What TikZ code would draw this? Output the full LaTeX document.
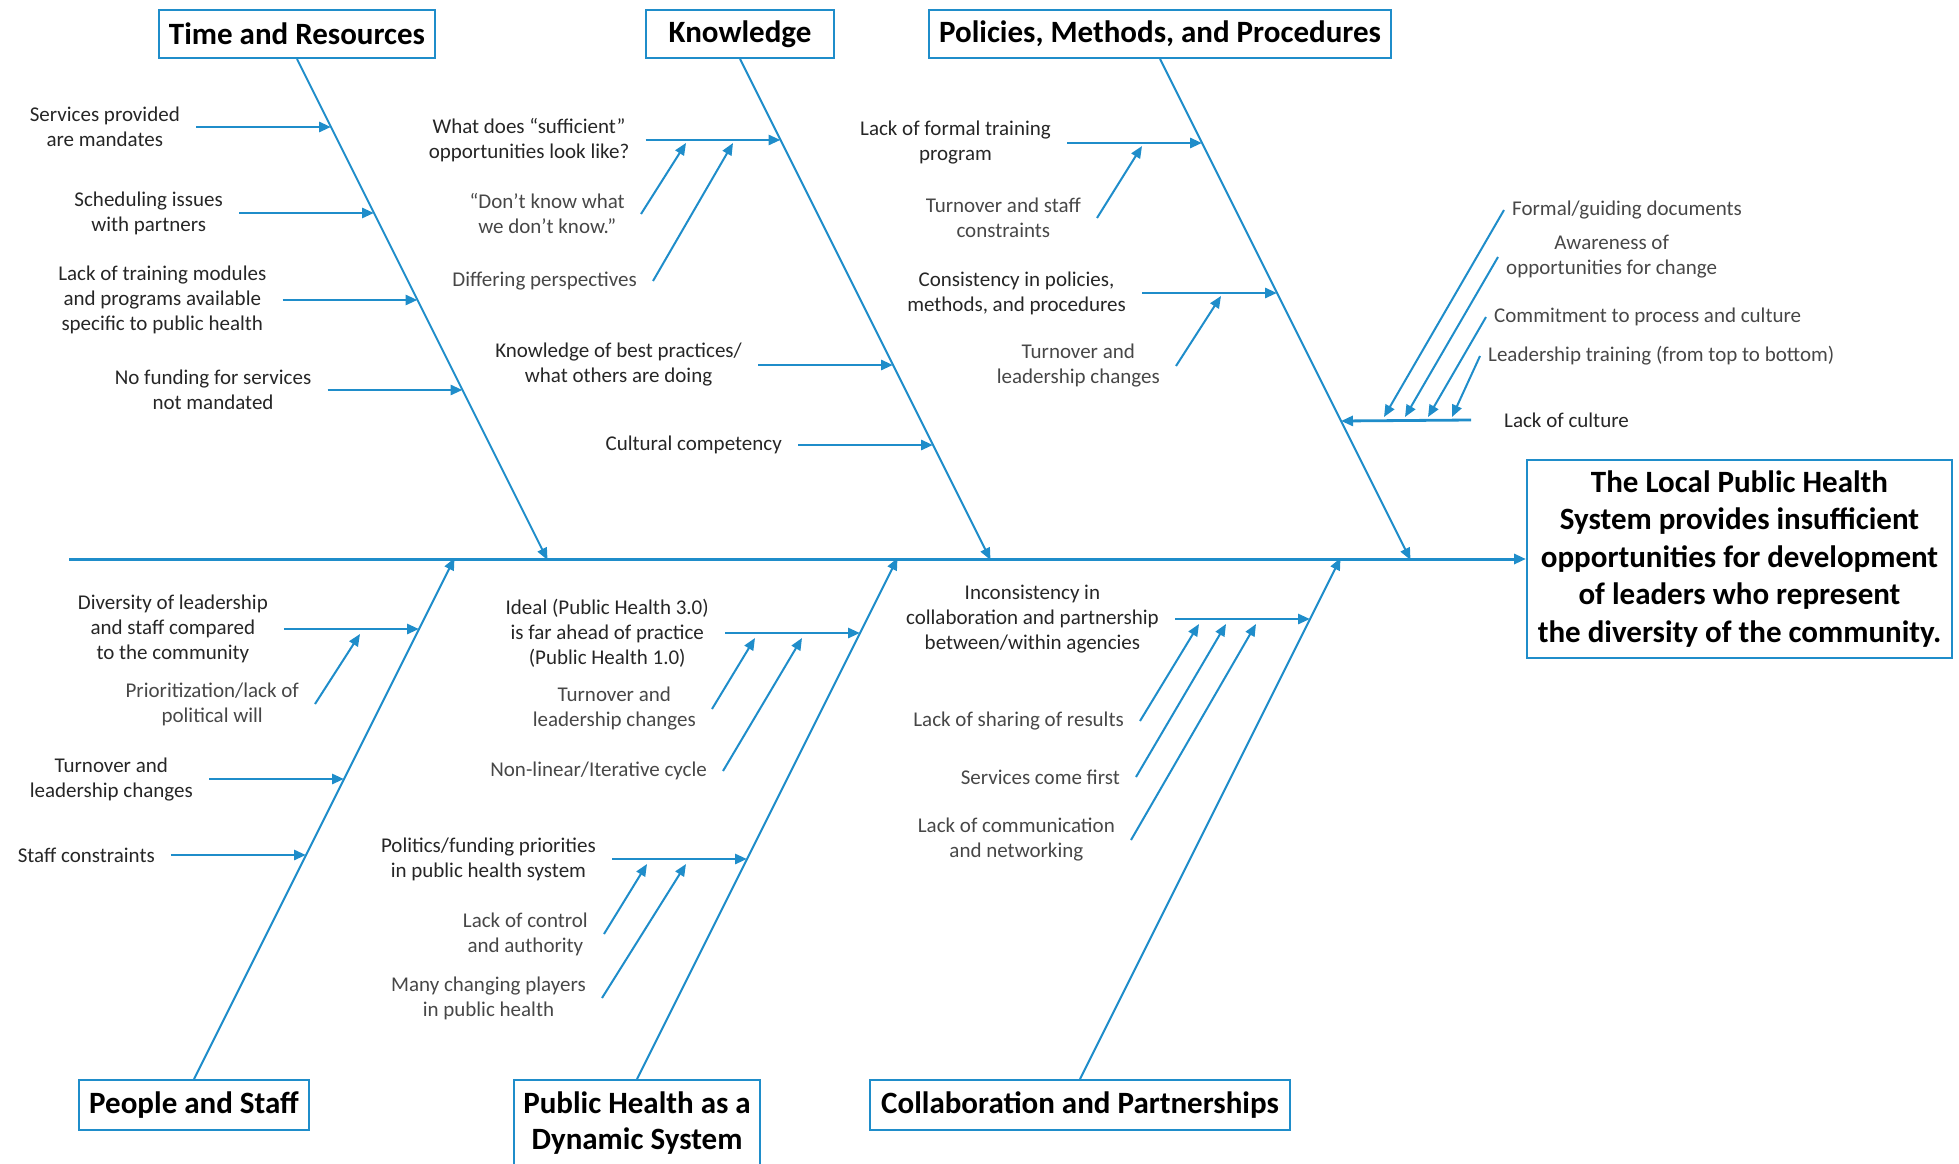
\documentclass[tikz,border=0pt]{standalone}
\usepackage{fontspec}
\setmainfont{Carlito}
\usetikzlibrary{arrows.meta,positioning,calc}
\definecolor{paper}{HTML}{FFFFFF}
\definecolor{ink}{HTML}{000000}
\definecolor{causeink}{HTML}{262626}
\definecolor{subink}{HTML}{474747}
\definecolor{fishblue}{HTML}{1F8DCA}
\newcommand{\SpineY}{559}
\newcommand{\TopY}{58}
\newcommand{\TopRun}{501}
\newcommand{\BotY}{1080}
\newcommand{\BotRun}{521}
\newcommand{\Reach}{135}

\begin{document}
\begin{tikzpicture}[
    x=1pt, y=-1pt, ink,
    font=\fontsize{21}{25}\selectfont,
    tip/.style={-{Triangle[length=12pt, width=10pt]}},
    spine/.style={tip, draw=fishblue, line width=3pt},
    boneline/.style={tip, draw=fishblue, line width=2pt},
    causearrow/.style={tip, draw=fishblue, line width=2.8pt},
    subarrow/.style={tip, draw=fishblue, line width=2pt},
    header/.style={draw=fishblue, line width=2pt, fill=paper, inner sep=0pt, align=center, font=\fontsize{31}{36}\selectfont\bfseries},
    effect/.style={header, minimum width=425pt, minimum height=198pt, font=\fontsize{31}{37.5}\selectfont\bfseries},
    causetext/.style={text=causeink, align=center, inner xsep=16pt, inner ysep=2pt},
    subtext/.style={causetext, text=subink},
    subtextR/.style={subtext, inner xsep=8pt},
  ]
\useasboundingbox (0,0) rectangle (1959,1164);

% --- The effect and the spine ---------------------------------------------------
\node[effect] (effect) at (1739.5,\SpineY) {The Local Public Health\\System provides insufficient\\opportunities for development\\of leaders who represent\\the diversity of the community.};
\coordinate (tail) at (69,\SpineY);
\draw[spine] (tail) -- (effect.west);

% --- Category boxes and their bones ----------------------------------------------
\foreach \n/\x/\y/\w/\h/\txt in {
    tr/297/34/276/48/{Time and Resources},
    kn/740/34/188/48/{Knowledge},
    pm/1160/34/462/48/{Policies, Methods, and Procedures},
    ps/194/1105/230/50/{People and Staff},
    ph/637/1123/246/86/{Public Health as a\\Dynamic System},
    cp/1080/1105/420/50/{Collaboration and Partnerships}} {
  \node[header, minimum width=\w pt, minimum height=\h pt] (\n) at (\x,\y) {\txt};
}
\foreach \n in {tr,kn,pm} {
  \coordinate (A\n) at (\n.south);
  \coordinate (B\n) at ($(\n.south)+(0.5*\TopRun,\TopRun)$);
  \draw[boneline] (A\n) -- (B\n);
}
\foreach \n in {ps,ph,cp} {
  \coordinate (A\n) at (\n.north);
  \coordinate (B\n) at ($(\n.north)+(0.5*\BotRun,-\BotRun)$);
  \draw[boneline] (A\n) -- (B\n);
}

% --- Causes on the upper bones ----------------------------------------------------
\foreach \n/\bn/\y/\txt in {
    tr1/tr/126/{Services provided\\are mandates},
    tr2/tr/212/{Scheduling issues\\with partners},
    tr3/tr/299/{Lack of training modules\\and programs available\\specific to public health},
    tr4/tr/389/{No funding for services\\not mandated},
    kn1/kn/139/{What does “sufficient”\\opportunities look like?},
    kn2/kn/364/{Knowledge of best practices/\\what others are doing},
    kn3/kn/444/{Cultural competency},
    pm1/pm/142/{Lack of formal training\\program},
    pm2/pm/292/{Consistency in policies,\\methods, and procedures}} {
  \coordinate (\n) at ($(A\bn)!{(\y-\TopY)/\TopRun}!(B\bn)$);
  \node[causetext, anchor=east] (t\n) at ($(\n)+(-\Reach,0)$) {\txt};
  \draw[causearrow] (t\n.east) -- (\n);
}

% --- Causes on the lower bones ----------------------------------------------------
\foreach \n/\bn/\y/\txt in {
    ps1/ps/630/{Diversity of leadership\\and staff compared\\to the community},
    ps2/ps/780/{Turnover and\\leadership changes},
    ps3/ps/856/{Staff constraints},
    ph1/ph/634/{Ideal (Public Health 3.0)\\is far ahead of practice\\(Public Health 1.0)},
    ph2/ph/860/{Politics/funding priorities\\in public health system},
    cp1/cp/620/{Inconsistency in\\collaboration and partnership\\between/within agencies}} {
  \coordinate (\n) at ($(A\bn)!{(\BotY-\y)/\BotRun}!(B\bn)$);
  \node[causetext, anchor=east] (t\n) at ($(\n)+(-\Reach,0)$) {\txt};
  \draw[causearrow] (t\n.east) -- (\n);
}

% --- Sub-causes feeding the cause arrows ------------------------------------------
\foreach \n/\sx/\sy/\ex/\ey/\txt in {
    kn1a/641/214/686/143/{“Don’t know what\\we don’t know.”},
    kn1b/653/281/733/143/{Differing perspectives},
    pm1a/1097/218/1142/146/{Turnover and staff\\constraints},
    pm2a/1176/366/1221/296/{Turnover and\\leadership changes},
    ps1a/315/704/360/634/{Prioritization/lack of\\political will},
    ph1a/712/709/755/638/{Turnover and\\leadership changes},
    ph1b/723/771/802/638/{Non-linear/Iterative cycle},
    ph2a/604/934/647/864/{Lack of control\\and authority},
    ph2b/602/998/686/864/{Many changing players\\in public health},
    cp1a/1140/721/1199/624/{Lack of sharing of results},
    cp1b/1136/777/1226/624/{Services come first},
    cp1c/1131/840/1256/624/{Lack of communication\\and networking}} {
  \coordinate (\n) at (\ex,\ey);
  \node[subtext, anchor=east] (t\n) at (\sx,\sy) {\txt};
  \draw[subarrow] (t\n.east) -- (\n);
}

% --- Lack of culture: the one cause coming from the right -------------------------
\coordinate (pm3) at ($(Apm)!{(420-\TopY)/\TopRun}!(Bpm)$);
\node[causetext, anchor=west, inner xsep=33pt] (tpm3) at (1471,420) {Lack of culture};
\draw[causearrow] (tpm3.west) -- (pm3);
\foreach \n/\sx/\sy/\ex/\txt in {
    pm3a/1504/210/1384/{Formal/guiding documents},
    pm3b/1498/257/1405/{Awareness of\\opportunities for change},
    pm3c/1486/317/1428/{Commitment to process and culture},
    pm3d/1480/356/1452/{Leadership training (from top to bottom)}} {
  \coordinate (\n) at (\ex,417);
  \node[subtextR, anchor=west] (t\n) at (\sx,\sy) {\txt};
  \draw[subarrow] (t\n.west) -- (\n);
}

\end{tikzpicture}
\end{document}
